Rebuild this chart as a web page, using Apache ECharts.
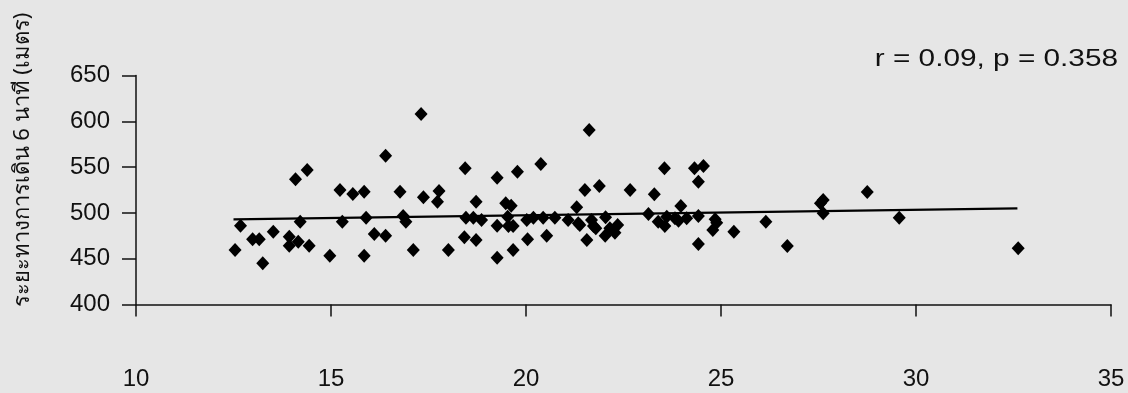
<!DOCTYPE html>
<html><head><meta charset="utf-8">
<script src="https://cdn.jsdelivr.net/npm/echarts@6/dist/echarts.min.js"></script>
<style>html,body{margin:0;padding:0;background:#e6e6e6}#c{width:1128px;height:393px}</style>
</head><body><div id="c"></div>
<script>
const xTicks = [10, 15, 20, 25, 30, 35];
const yTicks = [400, 450, 500, 550, 600, 650];
const yTitle = 'ระยะทางการเดิน 6 นาที (เมตร)';
const statText = 'r = 0.09, p = 0.358';
const pointsX = [
 12.54,12.68,12.99,13.16,13.25,13.52,13.93,13.93,14.09,14.16,14.21,14.39,14.44,14.97,15.23,15.29,15.56,15.85,15.85,15.90,
 16.11,16.40,16.40,16.77,16.85,16.92,17.11,17.31,17.37,17.73,17.77,18.01,18.42,18.44,18.46,18.65,18.72,18.72,18.86,19.26,
 19.26,19.26,19.48,19.53,19.55,19.62,19.67,19.67,19.78,20.02,20.04,20.19,20.38,20.44,20.53,20.74,21.08,21.30,21.34,21.38,
 21.51,21.56,21.62,21.68,21.73,21.79,21.88,22.03,22.04,22.15,22.28,22.35,22.67,23.14,23.29,23.39,23.55,23.56,23.61,23.82,
 23.91,23.97,24.12,24.32,24.42,24.42,24.42,24.55,24.79,24.85,24.89,25.33,26.15,26.70,27.55,27.62,27.62,28.75,29.57,32.62
];
const pointsY = [
 459.5,486.0,471.2,471.2,445.0,479.5,474.0,464.2,536.7,468.6,490.4,546.8,464.2,453.3,525.0,490.4,520.6,523.0,453.3,494.8,
 477.0,562.4,475.1,523.1,496.6,490.4,459.5,608.0,517.0,512.2,523.9,459.5,473.4,548.7,494.8,494.8,512.2,470.4,492.2,538.4,
 451.1,486.0,510.5,495.9,485.7,507.9,485.7,459.5,545.0,492.2,471.2,494.8,553.4,494.8,475.1,494.8,492.2,506.1,488.6,486.8,
 525.0,470.4,590.5,492.2,485.7,483.2,529.4,475.1,495.2,483.2,478.4,486.8,525.0,498.8,520.3,490.4,548.7,485.7,495.9,494.1,
 491.5,507.5,494.1,548.7,534.1,496.6,466.0,551.2,481.3,493.0,489.3,479.5,490.4,463.9,510.5,514.1,499.6,522.8,494.8,461.4
];
const trendX = [12.5, 32.6];
const trendY = [493, 505];

const scatterData = pointsX.map((x, i) => [x, pointsY[i]]);
const trendData = trendX.map((x, i) => [x, trendY[i]]);
const txt = '#111';
const chart = echarts.init(document.getElementById('c'), null, {renderer: 'canvas'});
chart.setOption({
  backgroundColor: '#e6e6e6',
  animation: false,
  grid: {left: 136, right: 17, top: 75.5, bottom: 88.5},
  xAxis: {
    type: 'value', min: xTicks[0], max: xTicks[xTicks.length - 1], interval: 5,
    axisLine: {onZero: false, lineStyle: {color: '#111', width: 1.5}},
    axisTick: {show: true, inside: false, length: 12, lineStyle: {color: '#111', width: 1.5}},
    axisLabel: {margin: 63, fontSize: 24, color: txt, fontFamily: 'Liberation Sans, Arial, sans-serif'},
    splitLine: {show: false}
  },
  yAxis: {
    type: 'value', min: yTicks[0], max: yTicks[yTicks.length - 1], interval: 50,
    axisLine: {show: true, onZero: false, lineStyle: {color: '#111', width: 1.5}},
    axisTick: {show: true, inside: false, length: 14, lineStyle: {color: '#111', width: 1.5}},
    axisLabel: {margin: 26, fontSize: 24, color: txt, fontFamily: 'Liberation Sans, Arial, sans-serif'},
    splitLine: {show: false}
  },
  graphic: [
    {type: 'text', x: 23, y: 160, rotation: Math.PI / 2,
     style: {text: yTitle, fontSize: 22, fill: txt, align: 'center', verticalAlign: 'middle',
             fontFamily: 'Noto Sans, DejaVu Sans, sans-serif'}},
    {type: 'text', x: 1118, y: 59, scaleX: 1.24,
     style: {text: statText, fontSize: 24, fill: txt, align: 'right', verticalAlign: 'middle',
             fontFamily: 'Liberation Sans, Arial, sans-serif'}}
  ],
  series: [
    {type: 'line', data: trendData, symbol: 'none', lineStyle: {color: '#000', width: 2.3}, z: 2},
    {type: 'scatter', data: scatterData, symbol: 'diamond', symbolSize: [13, 14],
     itemStyle: {color: '#000', opacity: 1}, z: 3}
  ]
});
</script></body></html>
